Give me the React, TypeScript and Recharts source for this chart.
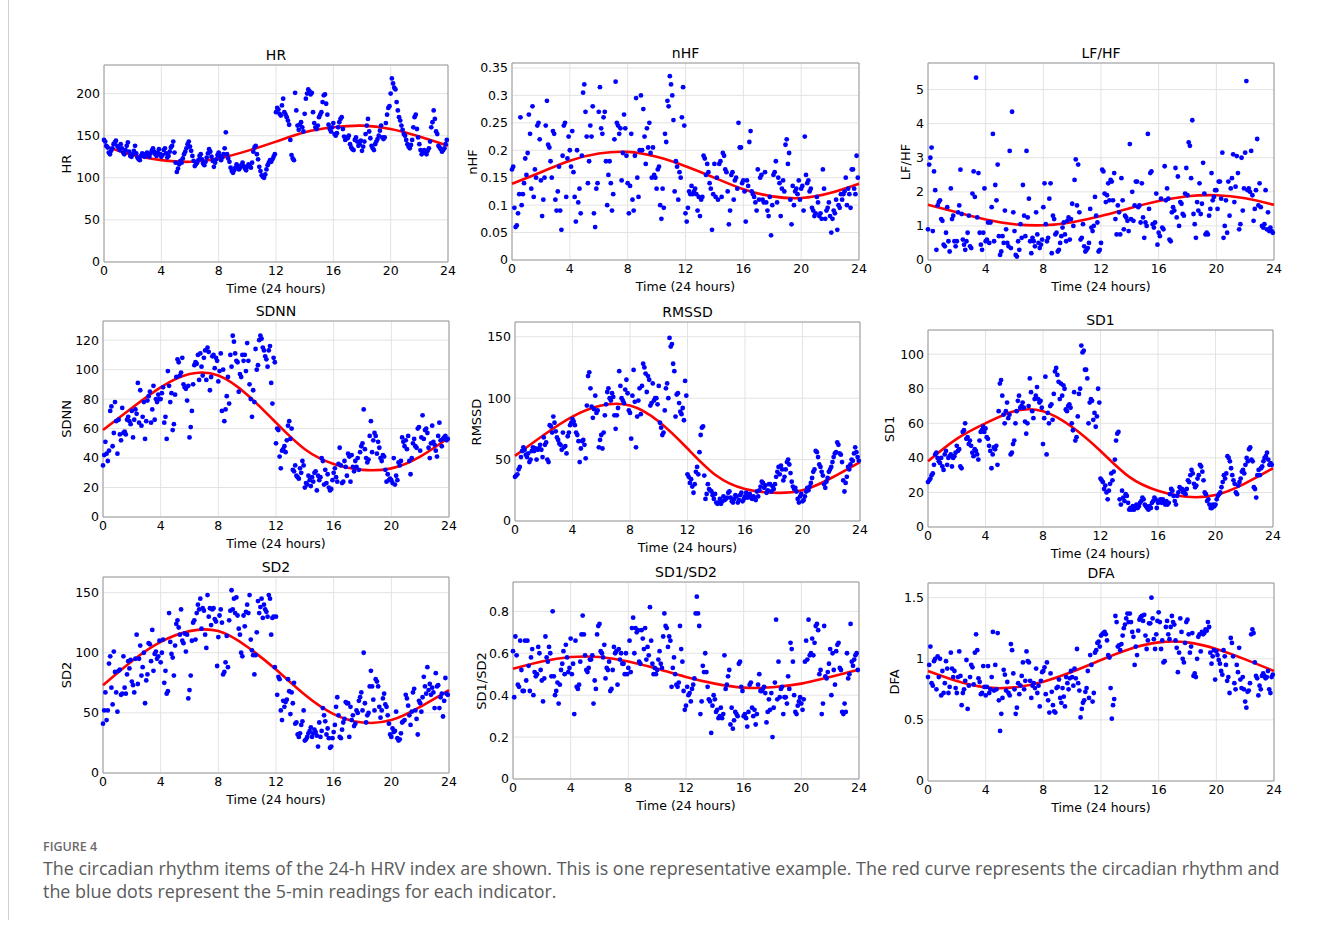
import React from 'react';
import { ComposedChart, Scatter, Line, XAxis, YAxis, CartesianGrid, ReferenceArea } from 'recharts';

// ---------- shared axis values ----------
const xTicks = [0, 4, 8, 12, 16, 20, 24];
const curveHours = [0, 2, 4, 6, 8, 10, 12, 14, 16, 18, 20, 22, 24];
const SAMPLES_PER_HOUR = 12; // 5-min readings

// ---------- HR ----------
const hrValues = [
  145,143,138,136,130,128,132,135,140,142,144,138,
  136,133,140,135,130,128,133,138,142,131,126,125,
  128,132,138,129,124,122,121,126,129,127,125,128,
  130,127,125,129,132,135,131,128,126,130,134,128,
  125,127,133,135,129,124,126,131,136,138,143,130,
  118,107,111,116,120,118,123,128,131,135,140,143,
  137,132,126,120,114,116,118,121,126,128,122,117,
  115,119,124,129,134,131,125,120,113,118,122,127,
  130,126,121,124,128,135,154,128,123,119,112,108,
  106,109,112,116,114,110,112,115,118,114,111,109,
  113,116,114,112,118,131,136,138,128,122,113,108,
  103,101,100,104,110,115,118,121,119,122,125,128,
  178,183,181,176,174,186,194,178,175,172,168,163,
  145,127,123,121,201,180,162,157,163,166,160,155,
  176,194,200,205,203,199,201,178,165,160,158,162,
  172,175,178,190,198,199,188,175,163,158,155,160,
  165,152,150,153,160,166,170,172,158,149,145,148,
  147,150,140,136,134,133,145,148,143,138,140,144,
  132,137,143,152,162,170,155,147,138,135,133,140,
  143,146,150,156,162,148,146,148,165,175,183,185,
  200,218,212,207,205,190,180,172,168,162,157,152,
  150,145,140,137,135,139,145,160,172,175,158,148,
  140,133,128,130,133,131,128,132,135,143,160,166,
  180,170,155,152,138,136,134,131,133,135,140,145,
];
const hrCurve = [138,127,121,119,123,132,143,154,160,162,158,149,138];

// ---------- nHF ----------
const nhfValues = [
  0.165,0.17,0.095,0.06,0.063,0.085,0.12,0.26,0.1,0.12,0.14,0.185,
  0.155,0.195,0.265,0.23,0.13,0.28,0.115,0.165,0.15,0.245,0.25,0.22,
  0.145,0.08,0.11,0.15,0.245,0.29,0.21,0.205,0.18,0.15,0.235,0.23,
  0.11,0.09,0.125,0.17,0.09,0.055,0.19,0.245,0.25,0.115,0.185,0.225,
  0.2,0.17,0.235,0.16,0.115,0.07,0.2,0.105,0.13,0.085,0.19,0.305,
  0.32,0.27,0.225,0.14,0.18,0.245,0.225,0.28,0.085,0.06,0.13,0.14,
  0.27,0.315,0.24,0.23,0.26,0.27,0.18,0.1,0.155,0.18,0.14,0.09,
  0.12,0.22,0.325,0.25,0.245,0.23,0.24,0.145,0.195,0.265,0.24,0.19,
  0.14,0.085,0.135,0.23,0.11,0.09,0.19,0.295,0.15,0.115,0.2,0.3,
  0.2,0.275,0.225,0.175,0.24,0.205,0.25,0.195,0.15,0.205,0.155,0.15,
  0.13,0.165,0.17,0.1,0.075,0.13,0.095,0.23,0.215,0.29,0.28,0.335,
  0.32,0.3,0.255,0.125,0.18,0.17,0.11,0.16,0.15,0.26,0.315,0.245,
  0.085,0.07,0.095,0.125,0.12,0.135,0.12,0.125,0.13,0.12,0.09,0.115,
  0.08,0.11,0.115,0.19,0.185,0.155,0.175,0.16,0.14,0.13,0.055,0.12,
  0.175,0.115,0.15,0.11,0.175,0.18,0.115,0.195,0.19,0.165,0.16,0.125,
  0.065,0.09,0.155,0.16,0.11,0.145,0.15,0.13,0.25,0.205,0.205,0.14,
  0.145,0.125,0.07,0.145,0.135,0.215,0.235,0.125,0.12,0.115,0.105,0.09,
  0.165,0.11,0.15,0.155,0.11,0.105,0.16,0.105,0.09,0.08,0.115,0.045,
  0.1,0.155,0.16,0.18,0.105,0.15,0.14,0.08,0.13,0.145,0.125,0.21,
  0.22,0.175,0.195,0.11,0.065,0.135,0.1,0.125,0.13,0.12,0.145,0.11,
  0.13,0.135,0.09,0.225,0.155,0.14,0.145,0.125,0.13,0.095,0.09,0.08,
  0.085,0.115,0.105,0.08,0.085,0.075,0.165,0.13,0.075,0.09,0.095,0.105,
  0.08,0.05,0.075,0.09,0.085,0.11,0.055,0.1,0.095,0.12,0.11,0.12,
  0.125,0.15,0.1,0.13,0.12,0.095,0.165,0.165,0.13,0.12,0.19,0.15,
];
const nhfCurve = [0.139,0.16,0.181,0.194,0.197,0.188,0.171,0.15,0.129,0.116,0.113,0.122,0.139];

// ---------- LF/HF ----------
const lfhfValues = [
  0.9,2.8,3.0,3.3,0.85,2.6,2.05,0.3,1.6,1.7,1.75,1.2,
  1.15,0.45,0.4,0.8,1.55,0.55,0.25,2.1,1.2,1.3,0.55,0.4,
  0.55,1.4,1.6,2.65,1.35,0.6,0.45,0.3,0.55,0.8,1.3,0.4,
  0.35,1.95,2.6,1.85,5.35,1.25,2.55,0.8,0.45,0.3,0.8,2.1,
  0.55,0.6,1.1,0.5,1.1,1.55,3.7,0.55,2.2,1.75,2.8,0.7,
  0.15,0.25,0.7,0.5,1.45,0.9,0.5,0.4,3.2,0.35,4.35,1.4,
  0.85,0.15,0.1,0.55,0.3,1.05,0.65,2.2,1.3,0.7,3.2,1.25,
  1.8,0.55,0.2,0.65,0.55,0.4,1.4,0.75,0.5,0.35,0.45,0.6,
  1.55,2.25,1.05,0.55,0.65,1.8,2.25,0.2,1.3,1.2,0.75,0.8,
  0.25,0.3,0.5,0.7,0.95,1.1,0.75,0.55,1.15,1.25,0.6,1.2,
  1.65,1.0,2.35,2.95,1.6,2.8,1.4,0.6,0.65,1.05,0.4,0.25,
  0.3,0.35,0.5,1.5,0.95,0.85,1.0,1.85,1.3,1.1,0.25,0.3,
  0.5,2.65,2.6,1.95,1.7,1.9,2.25,1.75,2.35,2.3,1.75,2.55,
  1.2,0.75,1.6,1.4,0.75,2.4,1.75,0.9,1.3,1.25,1.15,0.85,
  3.4,1.2,2.0,1.15,1.6,2.3,2.3,1.55,1.6,1.1,2.25,1.25,
  0.65,1.1,1.0,3.7,1.5,2.55,2.6,1.05,0.95,1.1,1.95,0.45,
  0.8,0.7,1.8,0.95,0.9,2.75,1.75,2.1,1.8,0.6,0.55,1.4,
  1.55,1.45,2.7,1.25,2.45,1.0,1.7,1.65,1.35,1.3,1.95,2.7,
  1.9,3.45,3.35,2.4,4.1,1.35,1.05,0.65,1.7,1.45,2.25,1.35,
  1.65,2.85,1.95,0.75,0.8,0.75,1.3,1.5,2.55,1.75,1.85,2.05,
  2.05,1.5,2.3,2.3,1.8,3.15,0.65,1.0,1.75,0.8,2.3,1.3,
  2.1,2.4,3.1,1.7,2.15,3.05,2.55,0.9,1.05,3.0,1.45,2.1,
  3.15,5.25,2.05,2.1,2.0,3.2,1.9,1.15,1.5,2.05,3.55,1.6,
  2.25,1.55,1.0,0.95,1.05,2.05,0.9,1.4,0.85,0.95,0.85,0.8,
];
const lfhfCurve = [1.62,1.4,1.19,1.05,1.02,1.11,1.29,1.52,1.73,1.87,1.9,1.81,1.62];

// ---------- SDNN ----------
const sdnnValues = [
  35,42,51,43,38,45,72,75,48,57,78,65,
  43,66,56,52,74,57,58,56,66,68,65,63,
  72,54,66,73,70,91,64,86,62,68,78,53,
  65,79,82,85,64,73,89,66,80,78,83,80,
  80,84,88,64,68,53,99,89,78,84,59,63,
  83,95,107,105,96,98,108,90,88,87,79,89,
  54,61,72,90,103,105,104,110,93,111,102,96,
  108,113,93,115,112,86,95,109,110,101,108,106,
  92,99,111,72,100,65,73,82,95,77,110,102,
  123,119,111,106,105,85,97,95,110,106,110,99,
  118,106,90,80,68,86,78,114,100,103,120,123,
  121,115,113,109,107,102,113,116,91,77,108,105,
  50,60,59,41,33,45,46,48,44,52,62,65,
  53,60,32,31,35,28,27,26,33,30,38,35,
  20,23,22,28,25,21,27,24,30,31,18,28,
  25,27,40,38,22,32,23,29,20,18,19,25,
  30,33,27,24,36,47,35,23,24,38,34,28,
  43,41,24,42,34,31,38,34,40,32,44,48,
  50,73,46,40,37,39,55,65,44,52,57,55,
  43,51,47,40,38,42,41,32,24,29,25,26,
  25,23,40,22,28,25,37,35,38,54,51,48,
  52,46,55,38,29,40,50,53,48,47,60,61,
  45,54,69,53,59,60,57,47,40,50,62,51,
  49,45,41,55,64,52,48,53,54,55,52,53,
];
const sdnnCurve = [59,74,88,97,96,83,64,46,36,32,33,41,54];

// ---------- RMSSD ----------
const rmssdValues = [
  36,37,38,42,44,52,57,60,58,54,52,55,
  48,50,57,60,57,59,50,58,59,62,58,52,
  68,62,64,50,48,78,77,72,85,80,73,68,
  66,63,62,58,72,60,61,55,69,72,78,80,
  83,81,78,72,70,65,48,59,65,66,62,51,
  94,118,121,108,93,84,91,102,88,90,60,66,
  70,59,72,86,95,105,108,100,98,104,101,86,
  75,86,92,122,110,100,98,96,107,115,104,90,
  88,67,102,123,97,60,85,98,108,87,110,128,
  125,120,105,118,115,94,96,112,98,100,100,95,
  110,80,76,70,72,90,108,112,100,149,142,144,
  128,122,85,103,104,96,89,87,92,82,114,102,
  38,36,31,34,28,23,30,40,44,38,56,70,
  76,77,37,18,22,30,26,25,24,21,18,22,
  15,14,15,18,14,16,20,17,18,19,23,24,
  19,16,15,18,21,20,15,17,21,23,16,18,
  20,23,19,21,22,19,18,20,19,17,24,20,
  25,28,32,31,27,29,23,25,30,30,24,28,
  26,30,36,40,44,38,45,42,33,36,42,48,
  50,46,39,32,28,26,27,24,18,15,20,22,
  16,17,20,24,27,25,28,31,35,40,42,57,
  56,52,46,44,40,37,30,27,32,35,40,42,
  44,48,52,55,56,64,62,55,54,48,33,24,
  31,36,44,42,46,50,49,55,60,56,52,49,
];
const rmssdCurve = [53,70,85,94,94,81,59,37,26,23,25,35,48];

// ---------- SD1 ----------
const sd1Values = [
  26,27,28,30,31,36,42,43,40,38,37,40,
  35,33,42,44,36,40,41,42,35,40,41,43,
  47,44,45,35,34,55,56,60,51,52,48,50,
  47,43,41,45,44,42,39,50,55,56,58,55,
  57,52,51,47,44,34,42,46,45,47,36,67,
  83,85,76,65,60,67,72,63,65,42,43,48,
  50,60,67,73,76,69,70,72,69,61,54,60,
  70,86,78,67,63,74,76,81,74,72,73,69,
  48,63,87,42,66,60,70,71,62,77,90,92,
  88,84,74,83,76,82,80,68,67,70,71,69,
  60,56,78,50,52,64,77,80,105,101,102,91,
  91,86,60,72,74,73,62,66,58,64,80,72,
  28,27,26,22,24,20,16,21,25,31,27,32,
  39,50,54,55,16,13,21,17,15,19,18,14,
  10,11,10,12,10,11,13,11,12,14,15,17,
  16,13,12,11,10,12,11,14,15,17,16,11,
  14,15,16,14,16,14,13,15,13,14,19,22,
  21,18,15,13,18,20,23,22,22,20,21,19,
  22,27,26,30,33,31,25,23,24,28,30,36,
  35,32,27,20,19,15,16,13,11,11,13,12,
  13,16,18,19,20,23,26,30,28,31,41,40,
  38,34,30,27,25,20,19,24,26,28,32,33,
  31,36,40,38,45,46,39,38,23,22,17,30,
  33,30,34,35,38,40,41,43,39,36,37,36,
];
const sd1Curve = [38,51,60,67,67,58,44,29,21,17.5,18.5,25,34];

// ---------- SD2 ----------
const sd2Values = [
  41,52,67,44,52,91,97,71,57,101,84,67,
  51,85,86,65,66,97,71,66,82,93,87,94,
  76,73,67,95,115,74,95,106,81,88,100,58,
  77,82,108,107,93,119,85,99,101,95,97,110,
  92,100,111,75,85,66,68,133,109,99,96,81,
  106,124,127,121,115,136,110,108,116,101,115,62,
  69,81,110,125,127,111,133,140,136,145,120,137,
  135,115,104,148,130,137,123,136,137,128,126,89,
  113,131,136,125,82,84,92,114,88,127,135,152,
  136,145,133,146,131,120,115,100,97,131,122,134,
  140,133,148,111,102,98,82,98,117,143,133,138,
  145,129,140,136,134,130,148,145,115,129,130,88,
  130,65,80,78,52,44,60,55,59,61,78,68,
  49,67,58,75,41,42,32,30,33,40,43,52,
  27,28,30,33,35,38,30,33,36,34,31,22,
  42,30,35,54,48,43,32,37,29,21,22,29,
  34,40,55,63,48,30,29,36,42,45,59,58,
  58,30,55,44,48,39,41,52,50,60,63,67,
  52,100,58,42,48,50,72,85,72,61,52,78,
  76,72,55,46,52,62,66,57,55,48,41,32,
  30,37,34,35,51,29,27,28,33,42,43,44,
  65,62,56,48,40,51,67,70,52,45,32,60,
  58,51,63,80,72,66,88,69,74,65,71,67,
  54,83,72,73,54,63,66,47,60,79,66,65,
];
const sd2Curve = [73,93,109,118,118,105,86,65,49,42,44,55,69];

// ---------- SD1/SD2 ----------
const ratioValues = [
  0.61,0.39,0.68,0.59,0.45,0.44,0.66,0.52,0.42,0.42,0.66,0.47,
  0.66,0.54,0.42,0.58,0.62,0.4,0.51,0.49,0.5,0.63,0.6,0.52,
  0.47,0.37,0.48,0.68,0.58,0.56,0.63,0.6,0.49,0.8,0.49,0.4,
  0.42,0.46,0.36,0.45,0.52,0.55,0.61,0.5,0.64,0.58,0.51,0.53,
  0.67,0.5,0.55,0.31,0.66,0.44,0.43,0.45,0.56,0.69,0.78,0.69,
  0.59,0.52,0.51,0.53,0.57,0.57,0.59,0.36,0.47,0.43,0.69,0.73,
  0.74,0.61,0.6,0.58,0.64,0.48,0.53,0.52,0.56,0.42,0.43,0.52,
  0.63,0.6,0.61,0.45,0.62,0.57,0.6,0.55,0.55,0.5,0.6,0.5,
  0.53,0.66,0.51,0.72,0.77,0.6,0.72,0.7,0.71,0.56,0.55,0.71,
  0.67,0.62,0.72,0.57,0.63,0.59,0.82,0.66,0.55,0.5,0.53,0.5,
  0.52,0.57,0.61,0.55,0.53,0.68,0.79,0.73,0.72,0.63,0.68,0.66,
  0.44,0.53,0.58,0.5,0.45,0.44,0.46,0.73,0.62,0.56,0.42,0.33,
  0.35,0.44,0.4,0.41,0.37,0.43,0.45,0.48,0.79,0.87,0.79,0.73,
  0.31,0.37,0.54,0.51,0.6,0.51,0.44,0.38,0.37,0.22,0.35,0.4,
  0.38,0.32,0.33,0.29,0.3,0.34,0.29,0.31,0.59,0.43,0.45,0.49,
  0.52,0.26,0.34,0.24,0.28,0.32,0.31,0.3,0.55,0.56,0.44,0.42,
  0.3,0.31,0.29,0.25,0.32,0.45,0.46,0.34,0.3,0.33,0.26,0.31,
  0.45,0.5,0.42,0.42,0.43,0.44,0.41,0.27,0.32,0.38,0.33,0.41,
  0.2,0.34,0.46,0.76,0.38,0.56,0.39,0.43,0.44,0.31,0.39,0.39,
  0.36,0.49,0.43,0.65,0.62,0.56,0.4,0.32,0.31,0.35,0.37,0.39,
  0.36,0.33,0.38,0.56,0.66,0.57,0.76,0.59,0.6,0.67,0.59,0.65,
  0.73,0.74,0.71,0.5,0.52,0.31,0.36,0.73,0.49,0.48,0.51,0.55,
  0.62,0.4,0.6,0.52,0.45,0.61,0.64,0.65,0.53,0.52,0.32,0.31,
  0.36,0.32,0.6,0.48,0.5,0.74,0.56,0.54,0.57,0.59,0.6,0.52,
];
const ratioCurve = [0.526,0.561,0.582,0.582,0.561,0.526,0.487,0.455,0.436,0.438,0.455,0.487,0.522];

// ---------- DFA ----------
const dfaValues = [
  0.85,0.95,1.1,0.8,0.78,0.98,1.0,0.75,1.02,0.85,1.0,0.7,
  0.9,0.72,0.8,0.98,0.92,0.72,0.77,1.05,0.92,0.85,0.9,0.76,
  0.72,0.85,1.06,0.86,0.62,0.72,0.75,0.82,0.99,0.59,0.78,0.85,
  0.95,0.93,0.79,1.05,1.2,1.07,0.84,0.81,0.71,0.72,0.94,0.77,
  0.7,0.77,0.94,0.72,0.75,0.85,1.22,0.74,0.95,0.75,1.21,0.66,
  0.41,0.55,0.68,0.91,0.87,0.74,0.81,0.72,0.7,1.12,1.07,0.88,
  0.75,0.55,0.6,0.8,0.71,0.78,0.86,0.97,0.75,0.82,1.06,0.98,
  0.97,0.82,0.68,0.78,0.8,0.76,0.92,0.72,0.78,0.61,0.82,0.89,
  0.9,0.93,0.71,0.97,0.66,0.56,0.88,0.73,0.62,0.57,0.56,0.76,
  0.77,0.83,0.68,0.64,0.76,0.69,0.61,0.85,0.8,0.75,0.84,0.9,
  0.85,0.78,0.92,0.84,1.08,0.8,0.74,0.52,0.59,0.64,0.66,0.73,
  0.76,0.9,0.68,1.03,0.95,0.65,0.72,1.05,1.07,1.13,1.14,1.1,
  1.19,1.2,1.21,1.22,1.2,1.15,1.03,1.01,0.76,0.51,0.62,0.67,
  1.35,1.3,1.1,1.11,1.07,1.12,1.19,1.25,1.28,1.33,1.37,1.3,
  1.37,1.3,1.22,1.18,0.95,1.1,1.03,1.23,1.32,1.34,1.35,1.31,
  1.36,1.19,1.08,1.15,1.29,1.29,1.5,1.33,1.16,1.08,1.2,1.31,
  1.38,1.3,1.08,1.15,0.97,0.98,1.26,1.31,1.2,1.16,1.26,1.35,
  1.3,1.28,1.15,1.09,0.89,1.05,1.33,1.22,1.0,0.97,1.13,1.3,
  1.32,1.2,1.05,1.1,1.21,0.86,0.88,0.85,1.0,1.18,1.2,1.06,
  1.22,1.2,1.21,1.24,1.23,1.3,1.26,1.05,0.96,1.02,1.07,0.83,
  1.06,1.03,0.99,0.96,0.9,0.87,1.07,1.02,0.95,0.82,0.85,0.72,
  1.17,1.13,1.02,0.8,0.75,0.95,0.89,1.09,0.83,0.76,0.85,0.75,
  0.65,0.6,0.73,0.74,0.8,1.2,1.24,1.21,0.97,0.86,0.84,0.7,
  0.78,0.75,0.86,0.88,0.86,0.84,0.85,0.9,0.75,0.72,0.85,0.87,
];
const dfaCurve = [0.9,0.818,0.766,0.766,0.813,0.894,0.99,1.08,1.134,1.134,1.08,0.995,0.9];

// ---------- panel layout ----------
type PanelCfg = {
  title: string; values: number[]; curve: number[]; yMax: number; yTicks: number[];
  L: number; T: number; R: number; B: number; yLabelX: number;
};

const panels: PanelCfg[] = [
  { title: 'HR', values: hrValues, curve: hrCurve, yMax: 234, yTicks: [0, 50, 100, 150, 200], L: 104, T: 65, R: 448, B: 262, yLabelX: 67 },
  { title: 'nHF', values: nhfValues, curve: nhfCurve, yMax: 0.359, yTicks: [0, 0.05, 0.1, 0.15, 0.2, 0.25, 0.3, 0.35], L: 512, T: 63, R: 859, B: 260, yLabelX: 473 },
  { title: 'LF/HF', values: lfhfValues, curve: lfhfCurve, yMax: 5.78, yTicks: [0, 1, 2, 3, 4, 5], L: 928, T: 63, R: 1274, B: 260, yLabelX: 906 },
  { title: 'SDNN', values: sdnnValues, curve: sdnnCurve, yMax: 133, yTicks: [0, 20, 40, 60, 80, 100, 120], L: 103, T: 321, R: 449, B: 517, yLabelX: 67 },
  { title: 'RMSSD', values: rmssdValues, curve: rmssdCurve, yMax: 162, yTicks: [0, 50, 100, 150], L: 515, T: 322, R: 860, B: 521, yLabelX: 477 },
  { title: 'SD1', values: sd1Values, curve: sd1Curve, yMax: 114, yTicks: [0, 20, 40, 60, 80, 100], L: 928, T: 330, R: 1273, B: 527, yLabelX: 890 },
  { title: 'SD2', values: sd2Values, curve: sd2Curve, yMax: 163, yTicks: [0, 50, 100, 150], L: 103, T: 577, R: 449, B: 773, yLabelX: 67 },
  { title: 'SD1/SD2', values: ratioValues, curve: ratioCurve, yMax: 0.94, yTicks: [0, 0.2, 0.4, 0.6, 0.8], L: 513, T: 582, R: 859, B: 779, yLabelX: 482 },
  { title: 'DFA', values: dfaValues, curve: dfaCurve, yMax: 1.62, yTicks: [0, 0.5, 1, 1.5], L: 928, T: 583, R: 1274, B: 781, yLabelX: 895 },
];

const FONT = '"DejaVu Sans", "Liberation Sans", Arial, sans-serif';
const tickStyle = { fontSize: 12.5, fill: '#000', fontFamily: FONT };

const BlueDot = (p: any) => {
  if (p.cx == null || p.cy == null) return <g />;
  return <circle cx={p.cx} cy={p.cy} r={2.4} fill="#0000ff" />;
};

function Panel({ cfg }: { cfg: PanelCfg }) {
  const { L, T, R, B } = cfg;
  const yw = 44, mt = 5, mr = 10, xh = 22;
  const w = yw + (R - L) + mr;
  const h = mt + (B - T) + xh;
  const pts = cfg.values.map((v, i) => ({ t: i / SAMPLES_PER_HOUR, v }));
  const curve = curveHours.map((t, i) => ({ t, v: cfg.curve[i] }));
  const cx = (L + R) / 2;
  const cy = (T + B) / 2;
  return (
    <>
      <div style={{ position: 'absolute', left: L - yw, top: T - mt }}>
        <ComposedChart width={w} height={h} margin={{ top: mt, right: mr, bottom: 0, left: 0 }}>
          <CartesianGrid stroke="#e3e3e3" strokeWidth={1} />
          <XAxis type="number" dataKey="t" domain={[0, 24]} ticks={xTicks} interval={0} height={xh}
            tickLine={false} axisLine={false} tickSize={0} tickMargin={4} tick={tickStyle} />
          <YAxis type="number" dataKey="v" domain={[0, cfg.yMax]} ticks={cfg.yTicks} interval={0} width={yw}
            tickLine={false} axisLine={false} tickSize={0} tickMargin={4} tick={tickStyle} allowDataOverflow />
          <ReferenceArea x1={0} x2={24} y1={0} y2={cfg.yMax} fill="none" stroke="#9a9a9a" strokeWidth={1} />
          <Scatter data={pts} dataKey="v" fill="#0000ff" shape={BlueDot} isAnimationActive={false} />
          <Line data={curve} dataKey="v" type="natural" stroke="#ff0000" strokeWidth={2.6} dot={false}
            activeDot={false} isAnimationActive={false} />
        </ComposedChart>
      </div>
      <div style={{ position: 'absolute', left: cx - 100, width: 200, top: T - 19, height: 18, lineHeight: '18px',
        textAlign: 'center', fontSize: 14, fontFamily: FONT, color: '#000' }}>{cfg.title}</div>
      <div style={{ position: 'absolute', left: cx - 100, width: 200, top: B + 19, height: 16, lineHeight: '16px',
        textAlign: 'center', fontSize: 12.5, fontFamily: FONT, color: '#000' }}>Time (24 hours)</div>
      <div style={{ position: 'absolute', left: cfg.yLabelX - 100, width: 200, top: cy - 8, height: 16, lineHeight: '16px',
        textAlign: 'center', fontSize: 13, fontFamily: FONT, color: '#000', transform: 'rotate(-90deg)' }}>{cfg.title}</div>
    </>
  );
}

export default function App() {
  return (
    <div style={{ position: 'absolute', left: 0, top: 0, width: 1320, height: 926, background: '#fff', overflow: 'hidden' }}>
      <div style={{ position: 'absolute', left: 8, top: 0, width: 1, height: 920, background: '#d0d0d0' }} />
      {panels.map((p) => <Panel key={p.title} cfg={p} />)}
      <div style={{ position: 'absolute', left: 43, top: 839, fontSize: 12.5, lineHeight: '16px', color: '#6b6b6b',
        fontFamily: '"Open Sans", sans-serif', fontWeight: 600 }}>FIGURE 4</div>
      <div style={{ position: 'absolute', left: 43, top: 857, fontSize: 17.9, lineHeight: '23px', color: '#5a5a5a',
        fontFamily: '"Open Sans", sans-serif', whiteSpace: 'nowrap' }}>
        <div>The circadian rhythm items of the 24-h HRV index are shown. This is one representative example. The red curve represents the circadian rhythm and</div>
        <div>the blue dots represent the 5-min readings for each indicator.</div>
      </div>
    </div>
  );
}
